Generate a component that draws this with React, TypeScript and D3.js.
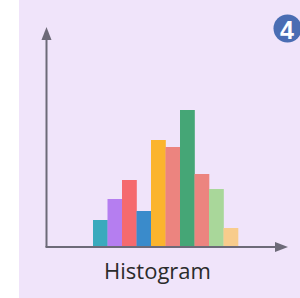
import * as React from 'react';
import * as d3 from 'd3';

const bins = ['b1', 'b2', 'b3', 'b4', 'b5', 'b6', 'b7', 'b8', 'b9', 'b10'];
const counts = [26, 47, 66, 35, 106, 99, 136, 72, 57, 18];
const colors = ['#3aaabd', '#b57ef0', '#f56a6e', '#3a8bcb', '#fbb42d', '#ec847f', '#45a676', '#ec847f', '#a9d79a', '#f8cc8c'];

const W = 300;
const H = 298;
const base = 246;
const axisX = 46.5;

export default function App() {
  const x = d3.scaleBand<string>().domain(bins).range([93, 238]).padding(0);
  const y = d3.scaleLinear().domain([0, 136]).range([base, 110]);
  const axisColor = '#6d6a78';

  return (
    <svg width={W} height={H} style={{ position: 'absolute', left: 0, top: 0 }}>
      <rect x={0} y={0} width={W} height={H} fill="#ffffff" />
      <rect x={19} y={0} width={W - 19} height={H} fill="#f0e4fa" />
      {counts.map((c, i) => (
        <rect
          key={i}
          x={x(bins[i])!}
          y={y(c)}
          width={x.bandwidth() + 0.3}
          height={base - y(c)}
          fill={colors[i]}
        />
      ))}
      <line x1={axisX} y1={38} x2={axisX} y2={base + 1} stroke={axisColor} strokeWidth={2} />
      <line x1={axisX - 1} y1={base + 1} x2={278} y2={base + 1} stroke={axisColor} strokeWidth={2} />
      <path d={`M${axisX},27 L${axisX + 5},40 L${axisX - 5},40 Z`} fill={axisColor} />
      <path d={`M288,${base + 1} L275,${base - 4} L275,${base + 6} Z`} fill={axisColor} />
      <text x={157.5} y={279} textAnchor="middle" fontFamily="'Open Sans', sans-serif" fontSize={22} fill="#2b2b2b">
        Histogram
      </text>
      <circle cx={287.5} cy={28.5} r={14} fill="#4a6db3" />
      <text x={287} y={39} textAnchor="middle" fontFamily="'Liberation Sans Narrow', 'Liberation Sans', sans-serif" fontWeight="bold" fontSize={25} fill="#ffffff">
        4
      </text>
    </svg>
  );
}
